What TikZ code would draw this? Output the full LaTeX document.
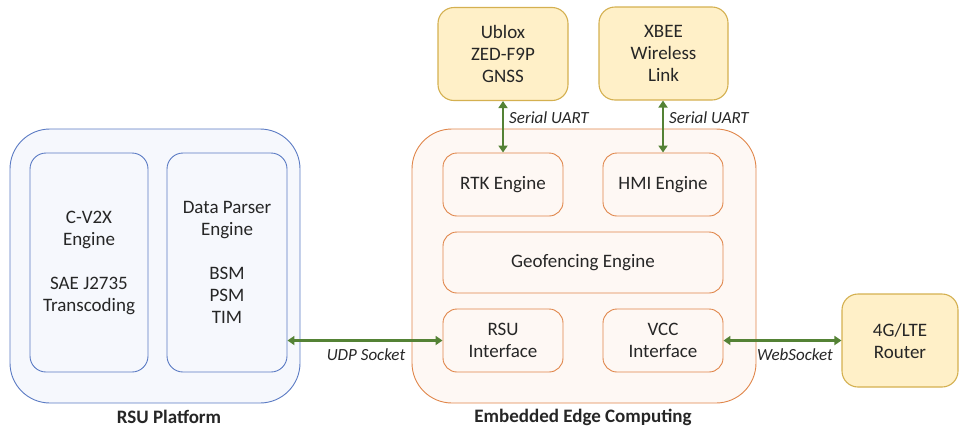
\documentclass[tikz,border=0pt]{standalone}
\usepackage{fontspec}
\setmainfont{Carlito}
\usetikzlibrary{arrows.meta}
\definecolor{rsuline}{HTML}{5B7BC4}
\definecolor{rsufill}{HTML}{F6F8FD}
\definecolor{edgeline}{HTML}{E0864A}
\definecolor{edgefill}{HTML}{FEF8F4}
\definecolor{extline}{HTML}{D4B050}
\definecolor{extfill}{HTML}{FFF0C8}
\definecolor{linkgreen}{HTML}{548235}
\tikzset{
  box/.style={draw, line width=0.9pt, align=center, inner sep=0pt,
    font=\fontsize{19}{22}\selectfont, text=black!85},
  rsuouter/.style={box, draw=rsuline, fill=rsufill, rounded corners=40pt},
  rsuinner/.style={box, draw=rsuline, fill=rsufill, rounded corners=16pt},
  edgeouter/.style={box, draw=edgeline, fill=edgefill, rounded corners=40pt},
  edgeinner/.style={box, draw=edgeline, fill=edgefill, rounded corners=14pt},
  extbox/.style={box, draw=extline, fill=extfill, line width=1.1pt, rounded corners=16pt},
  link/.style={draw=linkgreen, line width=2.4pt,
    {Triangle[width=9pt,length=7pt]}-{Triangle[width=9pt,length=7pt]}},
  linklabel/.style={font=\fontsize{17}{20}\selectfont\itshape, text=black!85, inner sep=0pt},
  title/.style={font=\fontsize{19}{22}\selectfont\bfseries, text=black!85, inner sep=0pt}
}
\begin{document}
\begin{tikzpicture}[x=1pt,y=-1pt]
\useasboundingbox (0,0) rectangle (963,429);

% RSU platform
\node[rsuouter, minimum width=290pt, minimum height=274pt] (rsu) at (155,266) {};
\node[rsuinner, minimum width=118pt, minimum height=219pt] (cv2x) at (89,262.5)
  {C-V2X\\Engine\\[22pt]SAE J2735\\Transcoding};
\node[rsuinner, minimum width=120pt, minimum height=219pt] (dpe) at (227,262.5)
  {Data Parser\\Engine\\[22pt]BSM\\PSM\\TIM};
\node[title] (rsut) at (169,417) {RSU Platform};

% Embedded edge computing
\node[edgeouter, minimum width=344pt, minimum height=274pt] (edge) at (584,266) {};
\node[edgeinner, minimum width=120pt, minimum height=63pt] (rtk) at (503,184.5) {RTK Engine};
\node[edgeinner, minimum width=120pt, minimum height=63pt] (hmi) at (663,184.5) {HMI Engine};
\node[edgeinner, minimum width=280pt, minimum height=61pt] (geo) at (583,262.5) {Geofencing Engine};
\node[edgeinner, minimum width=120pt, minimum height=63pt] (rsui) at (503,340.5) {RSU\\Interface};
\node[edgeinner, minimum width=120pt, minimum height=63pt] (vcc) at (663,340.5) {VCC\\Interface};
\node[title] (edget) at (583,417) {Embedded Edge Computing};

% External devices
\node[extbox, minimum width=130pt, minimum height=93pt] (ublox) at (503,54) {Ublox\\ZED-F9P\\GNSS};
\node[extbox, minimum width=129pt, minimum height=93pt] (xbee) at (663.5,53.5) {XBEE\\Wireless\\Link};
\node[extbox, minimum width=116pt, minimum height=93pt] (lte) at (900,340.5) {4G/LTE\\Router};

% Links
\draw[link] (ublox.south) -- (rtk.north);
\draw[link] (xbee.south -| hmi.north) -- (hmi.north);
\draw[link] (rsui.west -| dpe.east) -- (rsui.west);
\draw[link] (vcc.east) -- (lte.west);

\node[linklabel, anchor=west] (l1) at (509,118) {Serial UART};
\node[linklabel, anchor=west] (l2) at (669,118) {Serial UART};
\node[linklabel] (l3) at (366,355) {UDP Socket};
\node[linklabel] (l4) at (795,355) {WebSocket};
\end{tikzpicture}
\end{document}
